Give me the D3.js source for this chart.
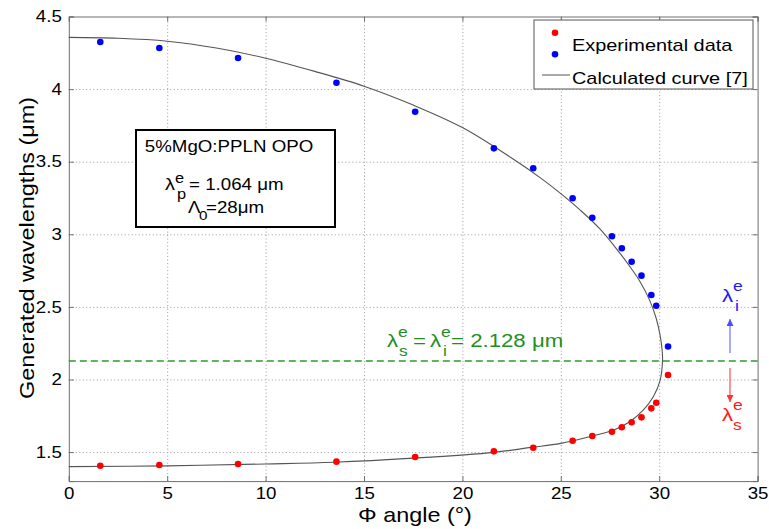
<!DOCTYPE html>
<html>
<head>
<meta charset="utf-8">
<script src="https://cdn.jsdelivr.net/npm/d3@7"></script>
<style>
  body { margin: 0; background: #fff; }
  text { font-family: Arial, "Liberation Sans", sans-serif; }
</style>
</head>
<body>
<svg id="chart" width="769" height="529"></svg>
<script>
// measured points (phi angle in degrees, wavelengths in um)
const angleExp  = [1.6, 4.6, 8.6, 13.6, 17.6, 21.6, 23.6, 25.6, 26.6, 27.6, 28.1, 28.6, 29.1, 29.6, 29.85, 30.45];
const idlerExp  = [4.324, 4.283, 4.214, 4.044, 3.844, 3.592, 3.455, 3.248, 3.114, 2.986, 2.904, 2.811, 2.715, 2.582, 2.508, 2.227];
const signalExp = [1.406, 1.411, 1.418, 1.434, 1.466, 1.505, 1.530, 1.578, 1.611, 1.640, 1.671, 1.705, 1.739, 1.801, 1.840, 2.031];

// calculated curve (idler branch out, signal branch back)
const curveAngle  = [0, 2.5, 5, 7.5, 10, 12.5, 15, 17.5, 20, 22.5, 24, 25, 26, 27, 28, 28.5, 29, 29.5, 29.85, 30.05, 30.15, 30.17,
                     30.05, 29.7, 29.2, 28.5, 27.7, 26.6, 25, 23.5, 21.6, 17.5, 13.5, 10, 5, 0];
const curveLambda = [4.356, 4.35, 4.33, 4.283, 4.213, 4.122, 4.02, 3.89, 3.735, 3.525, 3.385, 3.28, 3.165, 3.035, 2.87, 2.78, 2.68, 2.55, 2.42, 2.30, 2.20, 2.13,
                     1.996, 1.881, 1.79, 1.709, 1.652, 1.611, 1.56, 1.532, 1.498, 1.458, 1.43, 1.418, 1.405, 1.400];

const degenerate = 2.128;
const xTicks = [0, 5, 10, 15, 20, 25, 30, 35];
const yTicks = [1.5, 2, 2.5, 3, 3.5, 4, 4.5];

const SX = 1.17;   // the original font renders wide
const svg = d3.select('#chart');

const x = d3.scaleLinear().domain([0, 35]).range([68.8, 757.6]);
const y = d3.scaleLinear().domain([1.3, 4.5]).range([481.1, 16.5]);
const pLeft = x(0), pRight = x(35), pTop = y(4.5), pBottom = y(1.3);

svg.append('rect').attr('width', 769).attr('height', 529).attr('fill', '#fff');

// dotted grid
svg.append('g')
  .attr('transform', `translate(0,${pBottom})`)
  .call(d3.axisBottom(x).tickValues(xTicks.slice(1, -1)).tickSize(-(pBottom - pTop)).tickFormat(''))
  .call(g => g.select('.domain').remove())
  .selectAll('line').attr('stroke', '#9a9a9a').attr('stroke-dasharray', '1,2.5');
svg.append('g')
  .attr('transform', `translate(${pLeft},0)`)
  .call(d3.axisLeft(y).tickValues(yTicks.slice(0, -1)).tickSize(-(pRight - pLeft)).tickFormat(''))
  .call(g => g.select('.domain').remove())
  .selectAll('line').attr('stroke', '#9a9a9a').attr('stroke-dasharray', '1,2.5');

// axes with inward ticks
function styleAxis(g) {
  g.attr('font-size', 16).attr('font-family', 'Arial, "Liberation Sans", sans-serif');
  g.select('.domain').attr('stroke', '#6f6f6f');
  g.selectAll('line').attr('stroke', '#6f6f6f');
  g.selectAll('text').attr('fill', '#000').each(function () {
    const t = d3.select(this);
    const tx = +t.attr('x') || 0;
    t.attr('x', tx / SX).attr('transform', `scale(${SX},1)`);
  });
}
const plain = d => String(d);
svg.append('g').attr('transform', `translate(0,${pBottom})`)
  .call(d3.axisBottom(x).tickValues(xTicks).tickFormat(plain).tickSize(-5).tickPadding(7)).call(styleAxis);
svg.append('g').attr('transform', `translate(${pLeft},0)`)
  .call(d3.axisLeft(y).tickValues(yTicks).tickFormat(plain).tickSize(-5).tickPadding(7)).call(styleAxis);
svg.append('g').attr('transform', `translate(0,${pTop})`)
  .call(d3.axisTop(x).tickValues(xTicks).tickSize(-5).tickFormat('')).call(styleAxis);
svg.append('g').attr('transform', `translate(${pRight},0)`)
  .call(d3.axisRight(y).tickValues(yTicks).tickSize(-5).tickFormat('')).call(styleAxis);

// degenerate line
svg.append('line')
  .attr('x1', pLeft).attr('x2', pRight)
  .attr('y1', y(degenerate)).attr('y2', y(degenerate))
  .attr('stroke', '#2e9a2e').attr('stroke-width', 1.5).attr('stroke-dasharray', '7,4');

// calculated curve
const curvePts = curveAngle.map((a, i) => [a, curveLambda[i]]);
svg.append('path')
  .datum(curvePts)
  .attr('d', d3.line().x(d => x(d[0])).y(d => y(d[1])).curve(d3.curveCatmullRom))
  .attr('fill', 'none').attr('stroke', '#555').attr('stroke-width', 1.1);

// experimental points
svg.append('g').selectAll('circle')
  .data(angleExp).join('circle')
  .attr('cx', d => x(d)).attr('cy', (d, i) => y(idlerExp[i])).attr('r', 3.3).attr('fill', '#0000ff');
svg.append('g').selectAll('circle')
  .data(angleExp).join('circle')
  .attr('cx', d => x(d)).attr('cy', (d, i) => y(signalExp[i])).attr('r', 3.3).attr('fill', '#ff0000');

// text helper: place at (tx,ty) and widen like the original
function label(tx, ty, str, size, opts = {}) {
  const g = svg.append('g').attr('transform', `translate(${tx},${ty}) ${opts.rotate ? 'rotate(-90)' : ''} scale(${SX},1)`);
  return g.append('text')
    .attr('font-size', size)
    .attr('fill', opts.color || '#000')
    .attr('text-anchor', opts.anchor || 'start')
    .text(str);
}

// axis titles
label(34, 248, 'Generated wavelengths (\u03bcm)', 20, { rotate: true, anchor: 'middle' });
label(415, 522, '\u03a6 angle (\u00b0)', 20, { anchor: 'middle' });

// legend
svg.append('rect').attr('x', 534).attr('y', 20).attr('width', 219).attr('height', 69)
  .attr('fill', '#fff').attr('stroke', '#555');
svg.append('circle').attr('cx', 555).attr('cy', 32.7).attr('r', 3.3).attr('fill', '#ff0000');
svg.append('circle').attr('cx', 555).attr('cy', 54.3).attr('r', 3.3).attr('fill', '#0000ff');
svg.append('line').attr('x1', 542).attr('x2', 570).attr('y1', 75).attr('y2', 75).attr('stroke', '#555');
label(572, 51, 'Experimental data', 17);
label(572, 84, 'Calculated curve [7]', 17);

// crystal box
svg.append('rect').attr('x', 136).attr('y', 130).attr('width', 199).attr('height', 97)
  .attr('fill', '#fff').attr('stroke', '#000').attr('stroke-width', 2);
label(229, 152, '5%MgO:PPLN OPO', 16, { anchor: 'middle' });
label(165, 190, '\u03bb', 17);
label(175, 183, 'e', 14);
label(177, 199, 'p', 14);
label(189, 190, '= 1.064 \u03bcm', 16);
label(188, 213, '\u039b', 16);
label(199, 220, '0', 13);
label(206, 213, '=28\u03bcm', 16);

// degeneracy label
const green = '#1f8f1f';
label(387, 347, '\u03bb', 19, { color: green });
label(398, 337, 'e', 15, { color: green });
label(399, 356, 's', 15, { color: green });
label(413, 347, '=', 19, { color: green });
label(430, 347, '\u03bb', 19, { color: green });
label(441, 337, 'e', 15, { color: green });
label(443, 356, 'i', 15, { color: green });
label(451, 347, '= 2.128 \u03bcm', 19, { color: green });

// idler / signal arrows
const defs = svg.append('defs');
[['upHead', '#4d4dff'], ['downHead', '#ff3333']].forEach(([id, c]) => {
  defs.append('marker').attr('id', id).attr('viewBox', '0 0 10 10')
    .attr('refX', 10).attr('refY', 5).attr('markerWidth', 7).attr('markerHeight', 7)
    .attr('markerUnits', 'userSpaceOnUse').attr('orient', 'auto')
    .append('path').attr('d', 'M0,0 L10,5 L0,10 z').attr('fill', c);
});
svg.append('line').attr('x1', 730).attr('x2', 730).attr('y1', 353).attr('y2', 319)
  .attr('stroke', '#6f6fff').attr('stroke-width', 1.2).attr('marker-end', 'url(#upHead)');
svg.append('line').attr('x1', 730).attr('x2', 730).attr('y1', 368).attr('y2', 402)
  .attr('stroke', '#ff4d4d').attr('stroke-width', 1.2).attr('marker-end', 'url(#downHead)');

label(722, 302, '\u03bb', 19, { color: '#1a1aff' });
label(733, 291, 'e', 15, { color: '#1a1aff' });
label(735, 311, 'i', 15, { color: '#1a1aff' });
label(722, 421, '\u03bb', 19, { color: '#ff1a1a' });
label(733, 410, 'e', 15, { color: '#ff1a1a' });
label(733, 430, 's', 15, { color: '#ff1a1a' });
</script>
</body>
</html>
